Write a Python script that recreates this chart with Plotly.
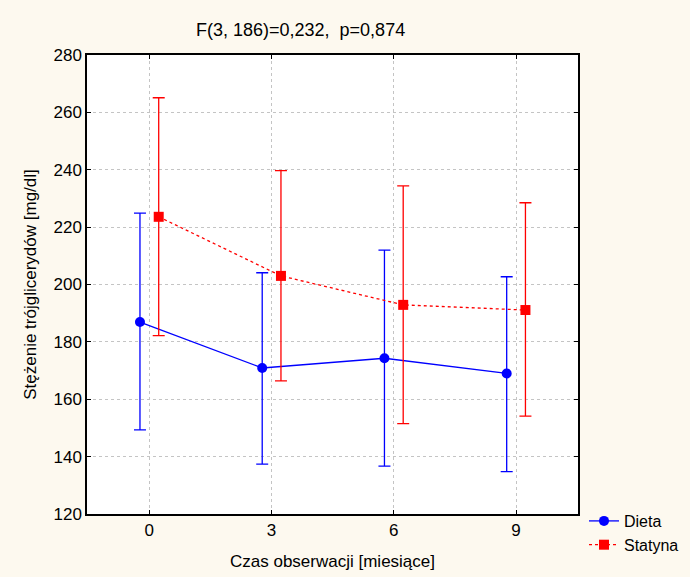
import plotly.graph_objects as go

months = [0, 3, 6, 9]
x_tick_labels = ["0", "3", "6", "9"]
offset = 0.23

dieta_mean = [186.9, 170.9, 174.3, 169.0]
dieta_upper = [224.9, 204.1, 212.0, 202.7]
dieta_lower = [149.3, 137.4, 136.7, 134.8]

statyna_mean = [223.6, 203.0, 192.9, 191.1]
statyna_upper = [265.1, 239.7, 234.4, 228.5]
statyna_lower = [182.2, 166.4, 151.5, 154.1]

FONT = "Liberation Sans, Arial, sans-serif"
FS = 17

fig = go.Figure()
fig.add_trace(go.Scatter(
    x=[m - offset for m in months], y=dieta_mean, name="Dieta",
    mode="lines+markers",
    line=dict(color="#0000FF", width=1.3),
    marker=dict(symbol="circle", size=10, color="#0000FF"),
    error_y=dict(type="data", symmetric=False,
                 array=[u - m for u, m in zip(dieta_upper, dieta_mean)],
                 arrayminus=[m - l for l, m in zip(dieta_lower, dieta_mean)],
                 color="#0000FF", thickness=1.3, width=6),
))
fig.add_trace(go.Scatter(
    x=[m + offset for m in months], y=statyna_mean, name="Statyna",
    mode="lines+markers",
    line=dict(color="#FF0000", width=1.3, dash="dot"),
    marker=dict(symbol="square", size=10, color="#FF0000"),
    error_y=dict(type="data", symmetric=False,
                 array=[u - m for u, m in zip(statyna_upper, statyna_mean)],
                 arrayminus=[m - l for l, m in zip(statyna_lower, statyna_mean)],
                 color="#FF0000", thickness=1.3, width=6),
))

L, R, T, B = 87, 112, 55, 63
PW, PH = 690 - L - R, 577 - T - B

fig.update_layout(
    width=690, height=577,
    margin=dict(l=L, r=R, t=T, b=B, autoexpand=False),
    paper_bgcolor="#FDF9EF",
    plot_bgcolor="white",
    font=dict(family=FONT, size=FS, color="black"),
    showlegend=True,
    legend=dict(x=(584 - L) / PW, xanchor="left", y=10 / PH, yanchor="top",
                bgcolor="rgba(0,0,0,0)", font=dict(size=16),
                tracegroupgap=0, itemwidth=30),
    annotations=[dict(text="F(3, 186)=0,232,\u00a0 p=0,874",
                      x=(300 - L) / PW, y=(577 - 30 - B) / PH,
                      xref="paper", yref="paper", showarrow=False,
                      xanchor="center", yanchor="middle",
                      font=dict(size=18))],
)

fig.update_xaxes(
    range=[-1.53, 10.52], tickvals=months, ticktext=x_tick_labels,
    tickfont=dict(size=FS),
    showgrid=True, gridcolor="#C4C4C4", griddash="dot", gridwidth=1,
    showline=True, linecolor="black", linewidth=1.5, mirror="ticks",
    ticks="inside", ticklen=4, tickcolor="black", zeroline=False,
    title=dict(text="Czas obserwacji [miesiące]", standoff=16,
               font=dict(size=FS)),
)
fig.update_yaxes(
    range=[120, 280], tickvals=list(range(120, 281, 20)),
    tickfont=dict(size=FS),
    showgrid=True, gridcolor="#C4C4C4", griddash="dot", gridwidth=1,
    showline=True, linecolor="black", linewidth=1.5, mirror="ticks",
    ticks="inside", ticklen=4, tickcolor="black", zeroline=False,
    title=dict(text="Stężenie trójglicerydów [mg/dl]", standoff=13,
               font=dict(size=FS)),
)

fig.write_html("out.html", config={"displayModeBar": False},
               post_script="document.body.style.margin='0';")
